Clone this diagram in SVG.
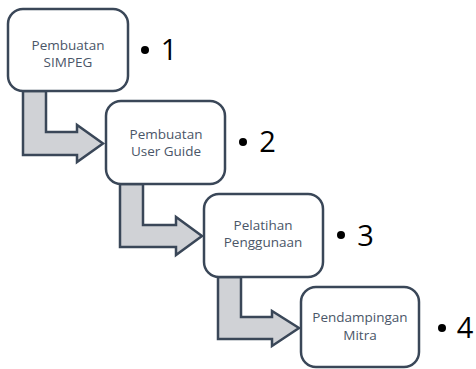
<svg xmlns="http://www.w3.org/2000/svg" width="476" height="369" viewBox="0 0 476 369">
<style>
.box{fill:#ffffff;stroke:#3a4758;stroke-width:2.5}
.arr{fill:#d0d2d6;stroke:#3a4758;stroke-width:2.5;stroke-linejoin:miter}
.lbl{font-family:"Open Sans","Noto Sans",sans-serif;font-size:13.5px;fill:#4a5668;text-anchor:middle}
.num{font-family:"Open Sans","Noto Sans",sans-serif;font-size:29px;fill:#000000;text-anchor:middle}
.dot{fill:#000000}
</style>
<rect width="476" height="369" fill="#ffffff"/>
<g id="connectors">
<path class="arr" d="M23,91 L46,91 L46,132 L77,132 L77,125 L103,143.5 L77,162 L77,155 L23,155 Z"/>
<path class="arr" d="M120,184 L143,184 L143,225 L176,225 L176,217 L202,236 L176,255 L176,247 L120,247 Z"/>
<path class="arr" d="M218,277 L241,277 L241,317 L272,317 L272,311 L299,328 L272,346 L272,339 L218,339 Z"/>
</g>
<g id="node1">
<rect class="box" x="8" y="9" width="120" height="82" rx="15"/>
<text class="lbl" x="68" y="50">Pembuatan</text>
<text class="lbl" x="68" y="67">SIMPEG</text>
<circle class="dot" cx="145" cy="50" r="4"/>
<text class="num" x="169" y="60">1</text>
</g>
<g id="node2">
<rect class="box" x="106" y="101" width="119" height="83" rx="15"/>
<text class="lbl" x="166" y="139">Pembuatan</text>
<text class="lbl" x="166" y="156">User Guide</text>
<circle class="dot" cx="243" cy="142" r="4"/>
<text class="num" x="267.5" y="152">2</text>
</g>
<g id="node3">
<rect class="box" x="204" y="194" width="119" height="83" rx="15"/>
<text class="lbl" x="263" y="230">Pelatihan</text>
<text class="lbl" x="263" y="247">Penggunaan</text>
<circle class="dot" cx="341" cy="235" r="4"/>
<text class="num" x="365.5" y="246">3</text>
</g>
<g id="node4">
<rect class="box" x="301" y="287" width="118" height="80" rx="15"/>
<text class="lbl" x="360" y="322">Pendampingan</text>
<text class="lbl" x="360" y="340">Mitra</text>
<circle class="dot" cx="442" cy="328" r="4"/>
<text class="num" x="465" y="338">4</text>
</g>
</svg>
